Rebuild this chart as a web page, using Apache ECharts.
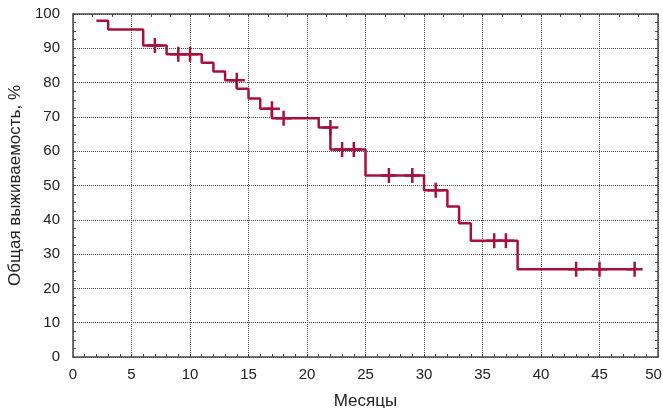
<!DOCTYPE html>
<html>
<head>
<meta charset="utf-8">
<script src="https://cdn.jsdelivr.net/npm/echarts@6/dist/echarts.min.js"></script>
<style>
html,body{margin:0;padding:0;background:#fff;}
#chart{width:663px;height:408px;}
</style>
</head>
<body>
<div id="chart"></div>
<script>
// Step start times (months) and survival levels (%)
var stepTimes = [2, 3, 6, 8, 11, 12, 13, 14, 15, 16, 17, 21, 22, 25, 30, 32, 33, 34, 38, 48];
var stepValues = [98.0, 95.5, 90.8, 88.3, 85.8, 83.2, 80.7, 78.2, 75.4, 72.4, 69.6, 66.9, 60.5, 52.9, 48.6, 43.9, 39.0, 33.9, 25.6, 25.6];
// Censored observations
var censorTimes = [7, 9, 10, 14, 17, 18, 22, 23, 24, 27, 29, 31, 36, 37, 43, 45, 48];
var censorValues = [90.8, 88.3, 88.3, 80.7, 72.4, 69.6, 66.9, 60.5, 60.5, 52.9, 52.9, 48.6, 33.9, 33.9, 25.6, 25.6, 25.6];
var xTicks = [0, 5, 10, 15, 20, 25, 30, 35, 40, 45, 50];
var yTicks = [0, 10, 20, 30, 40, 50, 60, 70, 80, 90, 100];

var stepData = stepTimes.map(function (t, i) { return [t, stepValues[i]]; });
var censorData = censorTimes.map(function (t, i) { return [t, censorValues[i]]; });

var RED = '#a8103c';
var AXIS = '#4a4a4a';
var FONT = 'Liberation Sans, Arial, sans-serif';
var plus = 'path://M6.75,0 h2.5 v6.25 h6.75 v2.5 h-6.75 v6.25 h-2.5 v-6.25 h-6.75 v-2.5 h6.75z';
var xMax = xTicks[xTicks.length - 1];

var chart = echarts.init(document.getElementById('chart'), null, {renderer: 'canvas'});
chart.setOption({
  animation: false,
  grid: {left: 73, right: 5, top: 14, bottom: 51, containLabel: false, outerBoundsMode: 'none'},
  xAxis: [{
    type: 'value', position: 'bottom', min: xTicks[0], max: xMax, interval: 5,
    name: 'Месяцы', nameLocation: 'middle', nameGap: 36,
    nameTextStyle: {fontFamily: FONT, fontSize: 17, color: '#222'},
    axisLine: {show: true, onZero: false, lineStyle: {color: AXIS, width: 1.5}},
    axisTick: {show: true, inside: true, length: 3, lineStyle: {color: AXIS}},
    minorTick: {show: true, splitNumber: 5, length: 3, lineStyle: {color: AXIS}},
    axisLabel: {
      fontFamily: FONT, fontSize: 15, color: '#222', margin: 10,
      formatter: function (v) { return v === xMax ? '{r|' + v + '}' : String(v); },
      rich: {r: {fontFamily: FONT, fontSize: 15, color: '#222', padding: [0, 9, 0, 0]}}
    },
    splitLine: {show: true, lineStyle: {color: '#444', type: [1, 1], width: 1}}
  }, {
    type: 'value', position: 'top', min: 0, max: 50, interval: 50 / 30,
    axisLine: {show: true, onZero: false, lineStyle: {color: AXIS, width: 1.5}},
    axisTick: {show: true, inside: true, length: 3, lineStyle: {color: AXIS}},
    axisLabel: {show: false}, splitLine: {show: false}
  }],
  yAxis: [{
    type: 'value', position: 'left', min: yTicks[0], max: yTicks[yTicks.length - 1], interval: 10,
    name: 'Общая выживаемость, %', nameLocation: 'middle', nameGap: 43, nameRotate: 90,
    nameTextStyle: {fontFamily: FONT, fontSize: 17, color: '#222'},
    axisLine: {show: true, onZero: false, lineStyle: {color: AXIS, width: 1.5}},
    axisTick: {show: true, inside: true, length: 3, lineStyle: {color: AXIS}},
    minorTick: {show: true, splitNumber: 4, length: 3, lineStyle: {color: AXIS}},
    axisLabel: {fontFamily: FONT, fontSize: 15, color: '#222', margin: 13},
    splitLine: {show: true, lineStyle: {color: '#444', type: [1, 1], width: 1}}
  }, {
    type: 'value', position: 'right', min: 0, max: 100, interval: 2.5,
    axisLine: {show: true, onZero: false, lineStyle: {color: AXIS, width: 1.5}},
    axisTick: {show: true, inside: true, length: 3, lineStyle: {color: AXIS}},
    axisLabel: {show: false}, splitLine: {show: false}
  }],
  series: [{
    type: 'line', step: 'end', data: stepData, xAxisIndex: 0, yAxisIndex: 0,
    showSymbol: false, symbol: 'none',
    lineStyle: {color: RED, width: 2.5}
  }, {
    type: 'scatter', data: censorData, xAxisIndex: 0, yAxisIndex: 0,
    symbol: plus, symbolSize: [16, 15],
    itemStyle: {color: RED, opacity: 1}
  }]
});
</script>
</body>
</html>
